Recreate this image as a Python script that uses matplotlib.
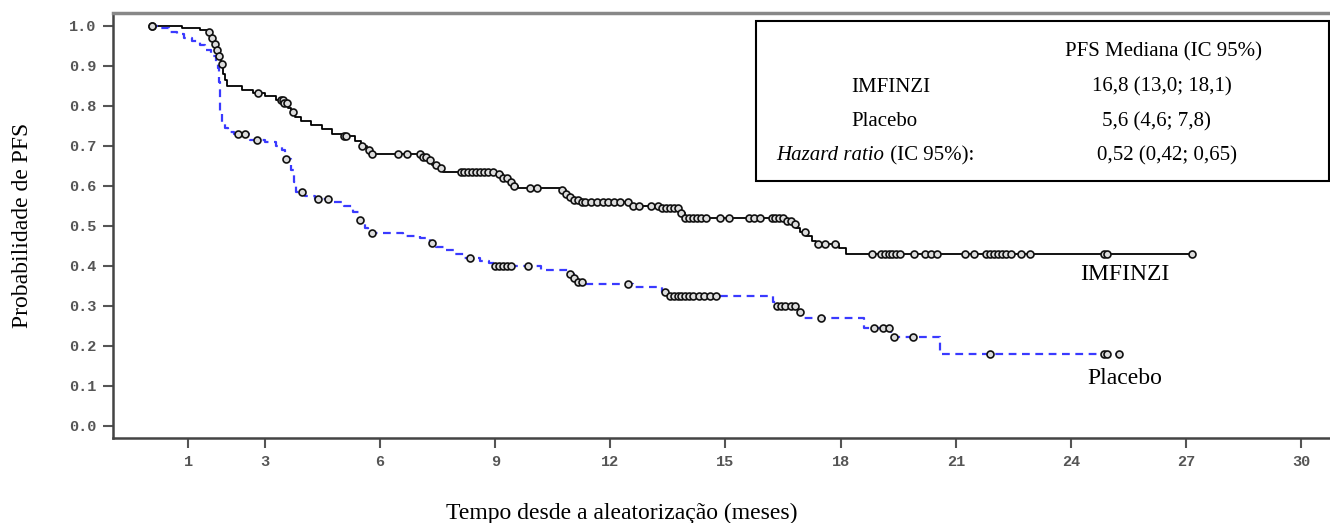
import matplotlib.pyplot as plt
import numpy as np
from matplotlib.patches import Rectangle

plt.rcParams['font.family'] = ['Liberation Serif', 'DejaVu Serif']

# IMFINZI curva KM: tempos dos eventos (meses) e probabilidade apos o evento
imf_t = [0, 0.85, 1.3, 1.52, 1.6, 1.65, 1.72, 1.78, 1.85, 1.9, 1.95, 2.02, 2.4, 2.7,
         3.0, 3.3, 3.48, 3.6, 3.68, 3.78, 3.95, 4.2, 4.5, 4.75, 5.0, 5.35, 5.5, 5.65,
         5.72, 7.1, 7.25, 7.35, 7.5, 7.65, 9.05, 9.2, 9.35, 9.5, 9.6, 10.7, 10.85,
         10.95, 11.05, 11.2, 12.5, 13.3, 13.8, 13.95, 16.6, 16.75, 16.85, 16.95, 17.1,
         17.25, 17.35, 17.95, 18.15]
imf_s = [1.0, 0.995, 0.99, 0.983, 0.97, 0.955, 0.94, 0.925, 0.905, 0.88, 0.865, 0.848,
         0.84, 0.832, 0.825, 0.815, 0.806, 0.795, 0.783, 0.772, 0.762, 0.752, 0.742,
         0.73, 0.724, 0.712, 0.7, 0.688, 0.679, 0.672, 0.664, 0.652, 0.643, 0.635,
         0.628, 0.62, 0.61, 0.6, 0.594, 0.588, 0.58, 0.572, 0.565, 0.56, 0.549, 0.544,
         0.532, 0.52, 0.512, 0.503, 0.495, 0.485, 0.475, 0.462, 0.454, 0.445, 0.43]
imf_cens = [0.05, 1.55, 1.62, 1.7, 1.75, 1.8, 1.88, 2.83, 3.42, 3.46, 3.5, 3.58, 3.72,
            5.05, 5.1, 5.52, 5.7, 5.78, 6.47, 6.71, 7.05, 7.12, 7.2, 7.3, 7.45, 7.6,
            8.1, 8.2, 8.3, 8.4, 8.5, 8.6, 8.7, 8.8, 8.95, 9.1, 9.2, 9.3, 9.4, 9.5,
            9.9, 10.1, 10.75, 10.85, 10.95, 11.05, 11.15, 11.25, 11.35, 11.5, 11.65,
            11.8, 11.95, 12.1, 12.25, 12.45, 12.6, 12.75, 13.05, 13.25, 13.35, 13.45,
            13.55, 13.65, 13.75, 13.85, 13.95, 14.05, 14.15, 14.25, 14.35, 14.5, 14.85,
            15.1, 15.6, 15.75, 15.9, 16.2, 16.3, 16.4, 16.5, 16.6, 16.7, 16.8, 17.07,
            17.4, 17.6, 17.85, 18.83, 19.05, 19.15, 19.25, 19.35, 19.45, 19.55, 19.9,
            20.2, 20.35, 20.5, 21.25, 21.47, 21.8, 21.9, 22.0, 22.1, 22.2, 22.3, 22.45,
            22.7, 22.93, 24.85, 24.95, 27.15]

# Placebo
pla_t = [0, 0.3, 0.5, 0.7, 0.9, 1.1, 1.3, 1.45, 1.6, 1.72, 1.78, 1.8, 1.82, 1.84, 1.87,
         1.95, 2.05, 2.2, 2.6, 3.0, 3.3, 3.45, 3.52, 3.68, 3.75, 3.82, 4.05, 4.3, 4.8,
         5.05, 5.3, 5.45, 5.6, 5.68, 6.6, 7.05, 7.3, 7.45, 7.7, 7.95, 8.2, 8.6, 8.85,
         9.0, 10.2, 10.95, 11.05, 11.15, 11.3, 12.6, 13.35, 13.5, 16.25, 16.35, 16.9,
         17.0, 18.6, 19.3, 20.6]
pla_s = [1.0, 0.995, 0.985, 0.978, 0.97, 0.962, 0.952, 0.94, 0.925, 0.91, 0.895, 0.86,
         0.82, 0.78, 0.755, 0.745, 0.735, 0.729, 0.714, 0.71, 0.7, 0.688, 0.667, 0.64,
         0.61, 0.585, 0.574, 0.566, 0.558, 0.55, 0.535, 0.514, 0.495, 0.482, 0.475,
         0.468, 0.456, 0.447, 0.44, 0.43, 0.42, 0.412, 0.406, 0.4, 0.389, 0.38, 0.37,
         0.36, 0.354, 0.347, 0.335, 0.323, 0.31, 0.299, 0.284, 0.269, 0.245, 0.221,
         0.178]
pla_cens = [0.05, 2.3, 2.48, 2.79, 3.55, 3.96, 4.39, 4.65, 5.48, 5.78, 7.35, 8.34, 9.0,
            9.1, 9.2, 9.3, 9.4, 9.86, 10.95, 11.05, 11.15, 11.25, 12.45, 13.42, 13.55,
            13.65, 13.75, 13.85, 13.95, 14.05, 14.15, 14.3, 14.45, 14.6, 14.75, 16.35,
            16.45, 16.55, 16.7, 16.8, 16.94, 17.5, 18.87, 19.1, 19.27, 19.4, 19.88,
            21.9, 24.85, 24.95, 25.25]

imf_end = 27.15
pla_end = 25.25

xticks = [1, 3, 6, 9, 12, 15, 18, 21, 24, 27, 30]
yticks = [0.0, 0.1, 0.2, 0.3, 0.4, 0.5, 0.6, 0.7, 0.8, 0.9, 1.0]

rows_left = ['IMFINZI', 'Placebo']
rows_right = ['PFS Mediana (IC 95%)', '16,8 (13,0; 18,1)', '5,6 (4,6; 7,8)',
              '0,52 (0,42; 0,65)']


def surv_at(times, surv, c):
    i = np.searchsorted(times, c, side='right') - 1
    return np.asarray(surv)[i]


fig = plt.figure(figsize=(13.3, 5.23), dpi=100)
ax = fig.add_axes([113.3 / 1330, 1 - 438 / 523, 1 - 113.3 / 1330, (438 - 13.3) / 523])

# curvas
ax.step(imf_t + [imf_end], imf_s + [imf_s[-1]], where='post', color='black', lw=1.3)
ax.step(pla_t + [pla_end], pla_s + [pla_s[-1]], where='post', color='#3a3aff',
        lw=1.6, linestyle=(0, (3.5, 2.5)))

# censuras
ax.plot(imf_cens, surv_at(imf_t, imf_s, imf_cens), 'o', ms=5, mfc='#dddddd',
        mec='#111111', mew=1.2, linestyle='none')
ax.plot(pla_cens, surv_at(pla_t, pla_s, pla_cens), 'o', ms=5, mfc='#dddddd',
        mec='#111111', mew=1.2, linestyle='none')

ax.text(25.4, 0.379, 'IMFINZI', fontsize=17, ha='center', va='center')
ax.text(25.4, 0.117, 'Placebo', fontsize=17, ha='center', va='center')

ax.set_xlim(-0.95, 30.75)
ax.set_ylim(-0.031, 1.031)
ax.set_xticks(xticks)
ax.set_yticks(yticks)
ax.set_yticklabels([f'{v:.1f}' for v in yticks])
ax.tick_params(direction='out', length=7, width=1.5, color='#555555', pad=5,
               labelcolor='#555555')
for lab in ax.get_xticklabels() + ax.get_yticklabels():
    lab.set_family('Liberation Mono')
    lab.set_weight('bold')
    lab.set_fontsize(11)

for side in ['left', 'bottom']:
    ax.spines[side].set_color('#444444')
    ax.spines[side].set_linewidth(1.8)
ax.spines['top'].set_color('#888888')
ax.spines['top'].set_linewidth(2.5)
ax.spines['right'].set_visible(False)

ax.set_ylabel('Probabilidade de PFS', fontsize=17, va='center')
ax.yaxis.set_label_coords(-(113.3 - 22) / (1330 - 113.3), 0.5)
ax.set_xlabel('Tempo desde a aleatorização (meses)', fontsize=17, va='center')
ax.xaxis.set_label_coords((622 - 113.3) / (1330 - 113.3), -(513 - 438) / (438 - 13.3))

# caixa com medianas
W, H = 1330, 523
fig.patches.append(Rectangle((755.7 / W, 1 - 181 / H), (1329 - 755.7) / W, 160 / H,
                             transform=fig.transFigure, fill=False, ec='black', lw=1.5))
row_y = [52, 87, 122, 156]
fig.text(1065 / W, 1 - row_y[0] / H, rows_right[0], fontsize=15, va='center')
for i, lab in enumerate(rows_left):
    fig.text(851.7 / W, 1 - row_y[i + 1] / H, lab, fontsize=15, va='center')
hz = fig.text(776.7 / W, 1 - row_y[3] / H, 'Hazard ratio', fontsize=15, va='center',
              style='italic')
ax.annotate(' (IC 95%):', xy=(1, 0.5), xycoords=hz, va='center', ha='left',
            fontsize=15)
right_x = [1091.7, 1101.7, 1096.7]
for i in range(3):
    fig.text(right_x[i] / W, 1 - row_y[i + 1] / H, rows_right[i + 1], fontsize=15,
             va='center')

plt.savefig('out.png', dpi=100)
